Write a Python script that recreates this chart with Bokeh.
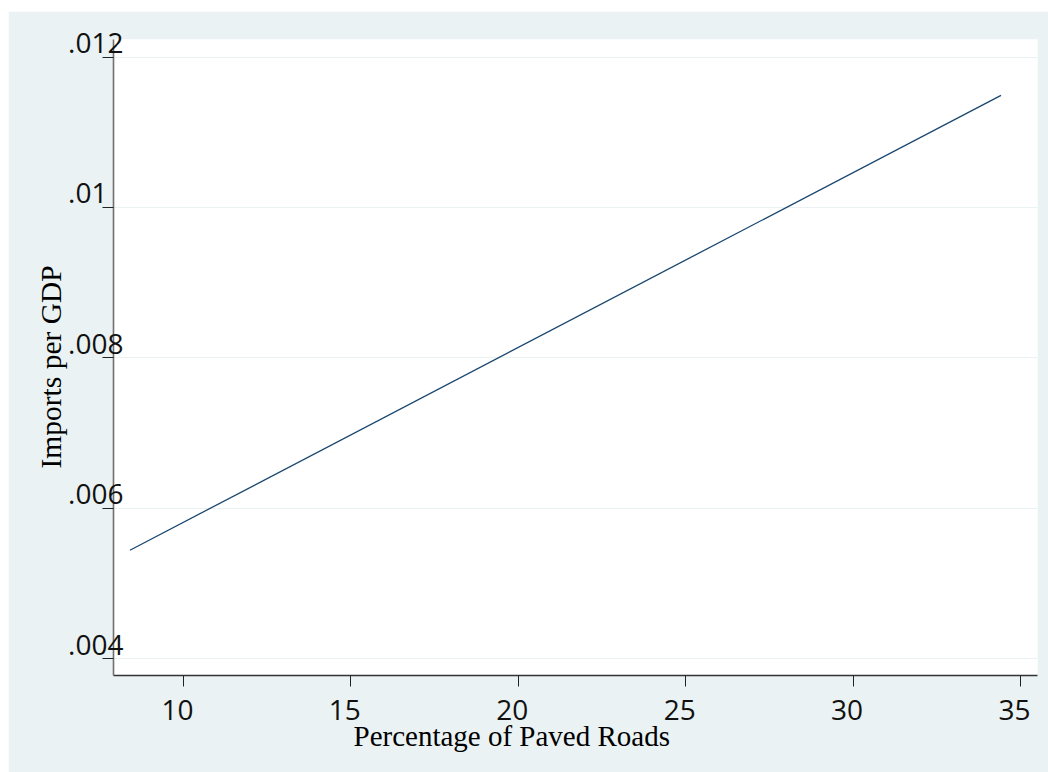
from bokeh.plotting import figure
from bokeh.models import FixedTicker, Range1d, LinearAxis, Title
from bokeh.embed import file_html
from bokeh.resources import INLINE

# ---- data ----
paved_roads = [8.4, 34.42]
imports_per_gdp = [0.00544, 0.01149]
x_ticks = [10, 15, 20, 25, 30, 35]
x_tick_labels = ["10", "15", "20", "25", "30", "35"]
y_ticks = [0.004, 0.006, 0.008, 0.010, 0.012]
y_tick_labels = [".004", ".006", ".008", ".01", ".012"]
x_title = "Percentage of Paved Roads"
y_title = "Imports per GDP"

BG = "#EAF2F3"
TICK_FONT = "Open Sans"
TITLE_FONT = "Liberation Serif"

X0, X1 = 7.91, 35.51
Y0, Y1 = 0.003774, 0.012233

W, H = 1040, 761
BL, BR, BT, BB = 105, 11, 28, 97
frame_w = W - BL - BR
frame_h = H - BT - BB

p = figure(width=W, height=H, output_backend="svg", toolbar_location=None,
           x_range=Range1d(X0, X1), y_range=Range1d(Y0, Y1))
p.margin = (11, 0, 0, 8)
p.min_border_left = BL
p.min_border_right = BR
p.min_border_top = BT
p.min_border_bottom = BB
p.background_fill_color = "white"
p.border_fill_color = BG
p.outline_line_color = None

p.line(paved_roads, imports_per_gdp, line_color="#1a476f", line_width=1.3)

# pixel shifts of the tick labels (Stata draws them offset from the ticks)
dx = 6 * (X1 - X0) / frame_w      # x labels 6px left of their tick
dy = 15.0 * (Y1 - Y0) / frame_h   # y labels raised above their tick
p.extra_x_ranges = {"xlab": Range1d(X0 + dx, X1 + dx)}
p.extra_y_ranges = {"ylab": Range1d(Y0 - dy, Y1 - dy)}

# primary axes: axis line + tick marks (drawn as minor ticks, so no labels)
xax = p.xaxis[0]
yax = p.yaxis[0]
xax.ticker = FixedTicker(ticks=[], minor_ticks=x_ticks)
yax.ticker = FixedTicker(ticks=[], minor_ticks=y_ticks)
for ax in (xax, yax):
    ax.major_tick_in = 0
    ax.major_tick_out = 11
    ax.minor_tick_in = 0
    ax.minor_tick_out = 11
    ax.minor_tick_line_color = "#222222"
    ax.minor_tick_line_width = 1
    ax.major_label_standoff = 0
xax.axis_line_color = "#333333"
xax.axis_line_width = 1.4
yax.axis_line_color = "#707070"
yax.axis_line_width = 1.6

# label axes: tick labels only
ylab_axis = LinearAxis(y_range_name="ylab", ticker=FixedTicker(ticks=y_ticks),
                       major_label_overrides={v: (t if len(t) == 4 else t + "\u2007")
                                              for v, t in zip(y_ticks, y_tick_labels)})
xlab_axis = LinearAxis(x_range_name="xlab", ticker=FixedTicker(ticks=x_ticks),
                       major_label_overrides=dict(zip(x_ticks, x_tick_labels)))
for ax in (xlab_axis, ylab_axis):
    ax.axis_line_color = None
    ax.major_tick_line_color = None
    ax.minor_tick_line_color = None
    ax.major_tick_in = 0
    ax.major_tick_out = 0
    ax.major_label_text_font = TICK_FONT
    ax.major_label_text_font_size = "28px"
    ax.major_label_text_color = "#111111"
ylab_axis.major_label_standoff = -21
xlab_axis.major_label_standoff = 13

p.add_layout(ylab_axis, "left")
p.add_layout(xlab_axis, "below")

# axis titles
p.add_layout(Title(text=x_title, align="left", offset=240, standoff=-9,
                   text_font=TITLE_FONT, text_font_size="29px",
                   text_font_style="normal", text_color="#000000"), "below")
p.add_layout(Title(text=y_title, align="left", offset=207, standoff=-3,
                   text_font=TITLE_FONT, text_font_size="29.5px",
                   text_font_style="normal", text_color="#000000"), "left")

# horizontal grid lines at the tick values
p.xgrid.grid_line_color = None
p.ygrid.grid_line_color = None
p.ygrid.minor_grid_line_color = "#EAF2F3"
p.ygrid.minor_grid_line_width = 1

open("out.html", "w").write(file_html(p, INLINE))
